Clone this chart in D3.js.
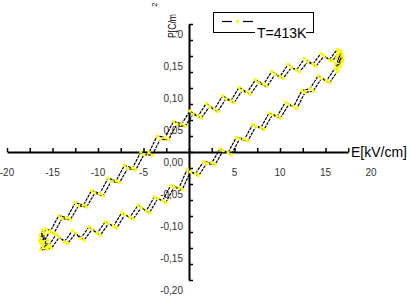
<!DOCTYPE html>
<html>
<head>
<meta charset="utf-8">
<script src="https://cdn.jsdelivr.net/npm/d3@7"></script>
<style>
  body { margin: 0; background: #fff; }
  svg { display: block; font-family: "Liberation Sans", Arial, sans-serif; }
</style>
</head>
<body>
<div id="chart"></div>
<script>
// hysteresis loop, two cycles (E in kV/cm, P in C/m2)
const upperE = [-16.4,-15.7,-15.2,-14.3,-13.4,-12.5,-11.6,-10.7,-9.8,-8.9,-8.0,-7.1,-6.2,-5.3,-4.4,-3.5,-2.6,-1.7,-0.8,0.1,1.0,1.9,2.8,3.7,4.6,5.5,6.4,7.3,8.2,9.1,10.0,10.9,11.8,12.7,13.6,14.5,15.4,16.3];
const upperP = [-0.140,-0.120,-0.123,-0.099,-0.103,-0.079,-0.083,-0.060,-0.065,-0.041,-0.045,-0.021,-0.025,0.000,-0.001,0.025,0.023,0.048,0.044,0.064,0.056,0.076,0.067,0.088,0.080,0.101,0.093,0.113,0.106,0.126,0.118,0.137,0.128,0.146,0.137,0.154,0.144,0.160];
const tipRightE = [16.7,16.9,16.4,16.8,16.2,16.6,16.1,16.4];
const tipRightP = [0.157,0.149,0.153,0.141,0.146,0.134,0.138,0.128];
const lowerE = [16.0,15.1,14.2,13.3,12.4,11.5,10.6,9.7,8.8,7.9,7.0,6.1,5.2,4.3,3.4,2.5,1.6,0.7,-0.2,-1.1,-2.0,-2.9,-3.8,-4.7,-5.6,-6.5,-7.4,-8.3,-9.2,-10.1,-11.0,-11.9,-12.8,-13.7,-14.6,-15.5];
const lowerP = [0.130,0.111,0.119,0.099,0.096,0.071,0.078,0.056,0.061,0.038,0.043,0.020,0.023,-0.001,0.005,-0.017,-0.015,-0.034,-0.027,-0.056,-0.052,-0.076,-0.070,-0.092,-0.083,-0.102,-0.095,-0.116,-0.109,-0.127,-0.117,-0.135,-0.123,-0.140,-0.129,-0.148];
const tipLeftE = [-16.0,-16.3,-15.6,-16.2,-15.5,-16.4,-15.8,-16.1];
const tipLeftP = [-0.140,-0.153,-0.152,-0.143,-0.138,-0.130,-0.126,-0.122];

// second cycle, slightly to the right
const upper2E = [-16.05,-15.35,-14.85,-13.95,-13.05,-12.15,-11.25,-10.35,-9.45,-8.55,-7.65,-6.75,-5.85,-4.95,-4.05,-3.15,-2.25,-1.35,-0.45,0.45,1.35,2.25,3.15,4.05,4.95,5.85,6.75,7.65,8.55,9.45,10.35,11.25,12.15,13.05,13.95,14.85,15.75,16.5];
const upper2P = [-0.143,-0.125,-0.127,-0.104,-0.106,-0.084,-0.086,-0.064,-0.069,-0.046,-0.048,-0.026,-0.028,-0.004,-0.005,0.020,0.019,0.043,0.040,0.059,0.053,0.071,0.063,0.083,0.077,0.096,0.090,0.108,0.102,0.121,0.115,0.132,0.125,0.141,0.134,0.150,0.142,0.156];
const tip2RightE = [16.8,16.5,16.9,16.3,16.7,16.2];
const tip2RightP = [0.152,0.158,0.144,0.150,0.136,0.131];
const lower2E = [16.3,15.45,14.55,13.65,12.75,11.85,10.95,10.05,9.15,8.25,7.35,6.45,5.55,4.65,3.75,2.85,1.95,1.05,0.15,-0.75,-1.65,-2.55,-3.45,-4.35,-5.25,-6.15,-7.05,-7.95,-8.85,-9.75,-10.65,-11.55,-12.45,-13.35,-14.25,-15.15];
const lower2P = [0.126,0.108,0.115,0.095,0.093,0.068,0.074,0.053,0.058,0.035,0.040,0.017,0.020,-0.004,0.002,-0.020,-0.018,-0.037,-0.031,-0.059,-0.055,-0.079,-0.073,-0.095,-0.087,-0.105,-0.098,-0.119,-0.112,-0.130,-0.121,-0.138,-0.127,-0.143,-0.133,-0.151];
const tip2LeftE = [-15.7,-16.1,-15.4,-16.3,-15.9];
const tip2LeftP = [-0.150,-0.147,-0.145,-0.135,-0.128];

const xTicks = [-20,-17.5,-15,-12.5,-10,-7.5,-5,-2.5,0,2.5,5,7.5,10,12.5,15,17.5];
const xLabels = [-20,-15,-10,-5,5,10,15,20];
const yTicks = [-0.2,-0.175,-0.15,-0.125,-0.1,-0.075,-0.05,-0.025,0,0.025,0.05,0.075,0.1,0.125,0.15,0.175,0.2];
const yLabelValues = [0.2,0.15,0.1,0.05,0,-0.05,-0.1,-0.15,-0.2];
const yLabelText = ["0,20","0,15","0,10","0,05","0,00","-0,05","-0,10","-0,15","-0,20"];
const legendLabel = "T=413K";

const width = 407, height = 298;

const svg = d3.select("#chart").append("svg")
  .attr("width", width)
  .attr("height", height);

const x = d3.scaleLinear().domain([-20, 20]).range([7, 371]);
const y = d3.scaleLinear().domain([-0.2, 0.2]).range([280, 24]);

// x axis: line stops at 17.5, ticks point up
const xAxisScale = x.copy().domain([-20, 17.5]).range([x(-20), x(17.5)]);
const gx = svg.append("g")
  .attr("transform", `translate(0,${y(0)})`)
  .call(d3.axisBottom(xAxisScale).tickValues(xTicks).tickSizeInner(-4).tickSizeOuter(0).tickFormat(""));
gx.select(".domain").attr("stroke-width", 2);
gx.selectAll(".tick line").attr("stroke-width", 1.5);

svg.append("g").selectAll("text")
  .data(xLabels)
  .join("text")
  .attr("x", d => x(d))
  .attr("y", y(0) + 20)
  .attr("dy", "0.35em")
  .attr("text-anchor", "middle")
  .attr("font-size", 10)
  .attr("fill", "#333")
  .text(d => d);

// y axis, ticks point right
const gy = svg.append("g")
  .attr("transform", `translate(${x(0)},0)`)
  .call(d3.axisRight(y).tickValues(yTicks).tickSizeInner(4).tickSizeOuter(0).tickFormat(""));
gy.select(".domain").attr("stroke-width", 2);
gy.selectAll(".tick line").attr("stroke-width", 1.5);

svg.append("g").selectAll("text")
  .data(yLabelValues)
  .join("text")
  .attr("x", x(0) - 6)
  .attr("y", d => y(d) + 10.5)
  .attr("dy", "0.35em")
  .attr("text-anchor", "end")
  .attr("font-size", 10)
  .attr("fill", "#333")
  .text((d, i) => yLabelText[i]);

svg.append("text")
  .attr("x", 351)
  .attr("y", y(0))
  .attr("dy", "0.35em")
  .attr("font-size", 14)
  .text("E[kV/cm]");

function buildLoop(parts) {
  const pts = [];
  parts.forEach(([es, ps]) => es.forEach((e, i) => pts.push([e, ps[i]])));
  pts.push(pts[0]);
  return pts;
}
const loops = [
  buildLoop([[upperE, upperP], [tipRightE, tipRightP], [lowerE, lowerP], [tipLeftE, tipLeftP]]),
  buildLoop([[upper2E, upper2P], [tip2RightE, tip2RightP], [lower2E, lower2P], [tip2LeftE, tip2LeftP]])
];

const line = d3.line().x(d => x(d[0])).y(d => y(d[1]));

svg.append("g").selectAll("path")
  .data(loops)
  .join("path")
  .attr("d", line)
  .attr("fill", "none")
  .attr("stroke", "#000")
  .attr("stroke-width", 1.2)
  .attr("stroke-dasharray", "3,1");

svg.append("g").selectAll("rect")
  .data(loops.flat())
  .join("rect")
  .attr("x", d => x(d[0]) - 1.5)
  .attr("y", d => y(d[1]) - 1.5)
  .attr("width", 3)
  .attr("height", 3)
  .attr("fill", "#ffff00");

// legend
const lg = svg.append("g");
lg.append("rect")
  .attr("x", 213.5).attr("y", 12.5)
  .attr("width", 100).attr("height", 20)
  .attr("fill", "#fff").attr("stroke", "#000");
lg.append("line").attr("x1", 222).attr("x2", 232).attr("y1", 21.5).attr("y2", 21.5).attr("stroke", "#000").attr("stroke-width", 1.2);
lg.append("line").attr("x1", 243).attr("x2", 253).attr("y1", 21.5).attr("y2", 21.5).attr("stroke", "#000").attr("stroke-width", 1.2);
lg.append("rect").attr("x", 236).attr("y", 20).attr("width", 3).attr("height", 3).attr("fill", "#ffff00");
lg.append("rect").attr("x", 255).attr("y", 25).attr("width", 51).attr("height", 14).attr("fill", "#fff");
lg.append("text")
  .attr("x", 257).attr("y", 38)
  .attr("font-size", 14)
  .text(legendLabel);

// y axis title, covering most of the top tick label like in the original
svg.append("rect").attr("x", 158).attr("y", 0).attr("width", 18.5).attr("height", 40).attr("fill", "#fff");
const title = svg.append("text")
  .attr("transform", "translate(176,38) rotate(-90)")
  .attr("font-size", 11);
title.append("tspan").attr("x", 0).attr("y", 0)
  .attr("textLength", 24).attr("lengthAdjust", "spacingAndGlyphs").text("P[C/m");
title.append("tspan").attr("x", 31).attr("y", -19).attr("font-size", 8).text("2");
</script>
</body>
</html>
